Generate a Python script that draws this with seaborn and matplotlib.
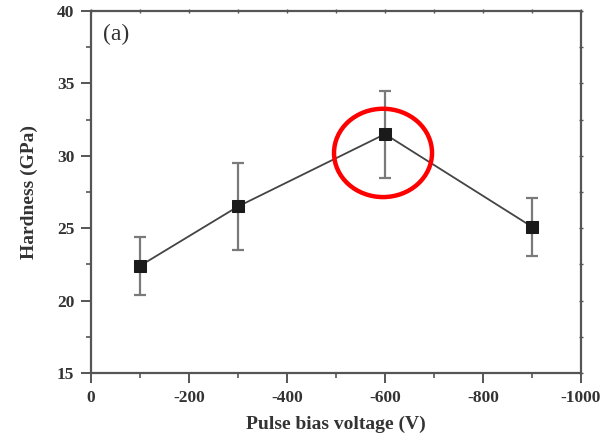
import matplotlib
matplotlib.use("Agg")
import matplotlib.pyplot as plt
from matplotlib.patches import Ellipse
from matplotlib.ticker import MultipleLocator
import seaborn as sns
import pandas as pd

# Hardness versus pulse bias voltage
bias_voltage = [-100, -300, -600, -900]
hardness = [22.4, 26.5, 31.5, 25.1]
hardness_err = [2.0, 3.0, 3.0, 2.0]

x_ticks = [0, -200, -400, -600, -800, -1000]
y_ticks = [15, 20, 25, 30, 35, 40]

df = pd.DataFrame({"bias": bias_voltage, "hardness": hardness, "err": hardness_err})

sns.set_theme(style="white")
plt.rcParams["font.family"] = ["Liberation Serif", "DejaVu Serif"]
plt.rcParams["axes.unicode_minus"] = False

fig = plt.figure(figsize=(6.01, 4.41), dpi=100)
ax = fig.add_axes([0.1514, 0.1542, 0.8153, 0.8208])

ax.errorbar(df["bias"], df["hardness"], yerr=df["err"], fmt="none",
            ecolor="#7a7a7a", elinewidth=1.6, capsize=4.3, capthick=1.6, zorder=2)
sns.lineplot(data=df, x="bias", y="hardness", ax=ax, color="#444444",
             linewidth=1.3, marker="s", markersize=9, markerfacecolor="#1a1a1a",
             markeredgecolor="#1a1a1a", zorder=3)

ax.set_xlim(0, -1000)
ax.set_ylim(15, 40)
ax.set_xticks(x_ticks)
ax.set_xticklabels([str(v) for v in x_ticks])
ax.set_yticks(y_ticks)
ax.set_yticklabels([str(v) for v in y_ticks])
ax.xaxis.set_minor_locator(MultipleLocator(100))
ax.yaxis.set_minor_locator(MultipleLocator(2.5))

for side in ["left", "bottom", "top", "right"]:
    ax.spines[side].set_visible(True)
    ax.spines[side].set_color("#555555")
    ax.spines[side].set_linewidth(1.6)

ax.tick_params(axis="both", which="both", bottom=True, left=True,
               top=False, right=False)
ax.tick_params(axis="both", which="major", direction="out", length=7, width=1.4,
               color="#555555", labelsize=12.5, pad=5)
ax.tick_params(axis="both", which="minor", direction="out", length=3.5, width=1.2,
               color="#555555")
for lbl in ax.get_xticklabels() + ax.get_yticklabels():
    lbl.set_fontweight("bold")
    lbl.set_color("#333333")

# short ticks on the top and right frame edges
ax_top = ax.secondary_xaxis("top")
ax_top.set_xticks([-200, -400, -600, -800])
ax_top.xaxis.set_minor_locator(MultipleLocator(100))
ax_top.tick_params(which="both", top=True, direction="inout", length=3, width=1.0,
                   color="#555555", labeltop=False)
ax_top.spines["top"].set_visible(False)
ax_right = ax.secondary_yaxis("right")
ax_right.set_yticks([20, 25, 30, 35])
ax_right.yaxis.set_minor_locator(MultipleLocator(2.5))
ax_right.tick_params(which="both", right=True, direction="inout", length=3, width=1.0,
                     color="#555555", labelright=False)
ax_right.spines["right"].set_visible(False)

ax.set_xlabel("Pulse bias voltage (V)", fontsize=14, fontweight="bold",
              color="#333333", labelpad=7)
ax.set_ylabel("Hardness (GPa)", fontsize=14, fontweight="bold",
              color="#333333", labelpad=14)

ax.text(0.025, 0.965, "(a)", transform=ax.transAxes, fontsize=17,
        color="#333333", va="top", ha="left")

# highlight the peak hardness
ax.add_patch(Ellipse((-596, 30.2), width=200, height=6.1, fill=False,
                     edgecolor="#ff0000", linewidth=3.2, zorder=4))

fig.savefig("out.png", dpi=100)
